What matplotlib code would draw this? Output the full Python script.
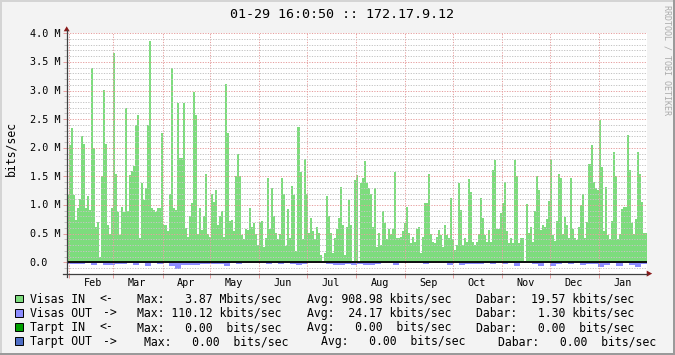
import numpy as np
import matplotlib
matplotlib.use("Agg")
import matplotlib.pyplot as plt
import matplotlib.dates as mdates
import matplotlib.transforms as mtransforms
from matplotlib.patches import Polygon, Rectangle
from matplotlib.lines import Line2D
from datetime import datetime, timedelta

# --- duomenys (nuskaityta nuo paveikslo) ---
# Visas IN, Mbit/s, ~1.26 d. stulpeliai
visas_in = [
    1.18, 2.05, 2.34, 1.18, 0.74, 0.95, 1.1, 2.2, 2.06, 0.95, 1.15, 0.91, 3.4, 2.0, 0.62, 0.7,
    0.1, 1.51, 3.01, 2.06, 0.65, 0.49, 0.94, 3.65, 1.55, 0.88, 0.48, 0.96, 0.88, 2.69, 0.9, 1.53,
    1.6, 1.68, 2.4, 2.57, 0.42, 1.38, 1.09, 1.29, 2.4, 3.87, 0.94, 0.91, 0.88, 0.94, 0.94, 2.25, 0.65,
    0.65, 0.54, 1.2, 3.4, 0.94, 0.91, 2.78, 1.82, 1.82, 2.78, 0.6, 0.45, 0.8, 1.03, 2.97, 2.57,
    0.5, 0.95, 0.56, 0.8, 1.54, 0.5, 0.45, 1.19, 1.06, 1.26, 0.65, 0.8, 0.9, 0.45, 3.11, 2.26,
    0.73, 0.74, 0.54, 1.51, 1.89, 1.51, 0.48, 0.41, 0.59, 0.56, 0.94, 0.62, 0.68, 0.5, 0.31, 0.71,
    0.72, 0.27, 0.43, 1.47, 0.59, 1.3, 0.8, 0.52, 0.41, 0.49, 1.47, 1.2, 0.29, 0.93, 0.42, 1.33,
    1.18, 0.2, 2.36, 1.57, 0.4, 1.8, 1.2, 0.52, 0.77, 0.55, 0.41, 0.61, 0.52, 0.13, 0.02, 0.17,
    1.15, 0.8, 0.52, 0.16, 0.43, 0.58, 0.77, 1.32, 0.66, 0.13, 0.61, 1.09, 0.66, 0.02, 1.44, 1.53,
    0.01, 1.39, 1.47, 1.77, 1.38, 1.29, 1.2, 0.61, 1.29, 0.26, 0.52, 0.3, 0.9, 0.68, 0.41, 0.59,
    0.5, 0.59, 1.58, 0.43, 0.43, 0.45, 0.54, 0.68, 0.97, 0.52, 0.33, 0.45, 0.36, 0.59, 0.62, 0.17,
    0.45, 1.03, 1.03, 1.55, 0.5, 0.36, 0.33, 0.45, 0.56, 0.48, 0.27, 0.65, 0.48, 0.42, 1.12, 0.41,
    0.22, 0.3, 1.39, 0.91, 0.3, 0.42, 0.36, 1.45, 1.23, 0.36, 0.3, 0.36, 0.5, 1.13, 0.77, 0.48,
    0.36, 0.56, 0.36, 1.61, 1.79, 0.59, 0.59, 0.86, 1.03, 1.4, 0.54, 0.33, 0.42, 0.33, 1.79, 1.5,
    0.33, 0.42, 0.42, 0.02, 1.02, 0.52, 0.61, 0.36, 0.9, 1.5, 1.26, 0.56, 0.66, 0.61, 0.75, 1.07,
    1.8, 0.48, 0.37, 0.72, 1.55, 1.47, 0.5, 0.79, 0.66, 0.43, 1.48, 0.59, 0.43, 0.39, 0.62, 1.0,
    1.19, 0.43, 0.7, 1.71, 2.05, 1.4, 1.29, 1.26, 2.49, 1.67, 0.54, 1.32, 0.48, 0.41, 0.72, 1.92,
    1.51, 0.41, 0.49, 0.93, 0.96, 0.96, 2.22, 1.62, 0.69, 0.5, 0.75, 1.92, 1.55, 1.05, 0.52, 0.52,
]
# Visas OUT, kbit/s (piesiama zemyn)
visas_out = [
    35, 25, 25, 10, 55, 15, 45, 55, 30, 25, 10, 45, 15, 65, 15, 35,
    15, 70, 110, 50, 45, 50, 35, 25, 25, 25, 60, 20, 35, 10, 10, 15,
    10, 30, 10, 25, 15, 25, 45, 35, 10, 10, 20, 30, 40, 40, 30, 45,
    25, 50, 45, 25, 10, 10, 45, 20, 10, 10, 10, 35, 10, 10, 15, 45,
    10, 45, 25, 30, 30, 15, 35, 15, 35, 10, 60, 15, 10, 35, 60, 15,
    60, 35, 10, 25, 10, 45, 25, 25, 90, 45, 15, 70, 20, 40, 80, 35,
]

month_labels = ["Feb", "Mar", "Apr", "May", "Jun", "Jul", "Aug", "Sep", "Oct", "Nov", "Dec", "Jan"]
ytick_vals = [4.0, 3.5, 3.0, 2.5, 2.0, 1.5, 1.0, 0.5, 0.0]
ytick_labels = ["4.0 M", "3.5 M", "3.0 M", "2.5 M", "2.0 M", "1.5 M", "1.0 M", "0.5 M", "0.0"]

title = "01-29 16:0:50 :: 172.17.9.12"
legend_names = ["Visas IN", "Visas OUT", "Tarpt IN", "Tarpt OUT"]
legend_arrows = ["<-", "->", "<-", "->"]
legend_colors = ["#7ddc7d", "#8c8cff", "#00a000", "#4f6ec5"]
max_vals = [3.87, 110.12, 0.00, 0.00]
max_units = ["M", "k", " ", " "]
avg_vals = [908.98, 24.17, 0.00, 0.00]
avg_units = ["k", "k", " ", " "]
cur_vals = [19.57, 1.30, 0.00, 0.00]
cur_units = ["k", "k", " ", " "]

# --- isdestymas pikseliais ---
W, H = 675, 355
MONO = "DejaVu Sans Mono"


def fx(px):
    return px / W


def fy(py):
    return 1 - py / H


fig = plt.figure(figsize=(W / 100, H / 100), dpi=100, facecolor="#f3f3f3")

# remelis
fig.add_artist(Rectangle((0, fy(2)), 1, 2 / H, transform=fig.transFigure, color="#d4d4d4", lw=0))
fig.add_artist(Rectangle((0, 0), fx(2), 1, transform=fig.transFigure, color="#d4d4d4", lw=0))
fig.add_artist(Rectangle((fx(673), 0), fx(2), 1, transform=fig.transFigure, color="#9a9a9a", lw=0))
fig.add_artist(Rectangle((0, 0), 1, 2 / H, transform=fig.transFigure, color="#9a9a9a", lw=0))

x0, x1 = 66.7, 646.7
ytop, ybot = 33.3, 273.75
ax = fig.add_axes([fx(x0), fy(ybot), fx(x1) - fx(x0), (ybot - ytop) / H])
ax.set_facecolor("white")

start = datetime(2010, 1, 30, 13, 0)
span_days = 365.7
t0 = mdates.date2num(start)
ax.set_xlim(t0, t0 + span_days)
ax.set_ylim(-0.2, 4.0)

edges_in = t0 + np.linspace(0, span_days, len(visas_in) + 1)
edges_out = t0 + np.linspace(0, span_days, len(visas_out) + 1)
ax.stairs(visas_in, edges_in, baseline=0, fill=True, color=legend_colors[0], lw=0, zorder=1)
ax.stairs(-np.array(visas_out) / 1000.0, edges_out, baseline=0, fill=True,
          color=legend_colors[1], lw=0, zorder=1)

# tinklelis
month_starts = [datetime(2010, m, 1) for m in range(2, 13)] + [datetime(2011, 1, 1)]
ax.set_xticks(mdates.date2num(month_starts))
ax.set_yticks(np.arange(0, 4.01, 0.5))
ax.set_yticks(np.arange(-0.2, 4.01, 0.1), minor=True)
ax.set_axisbelow(False)
dots = (0, (1.2, 1.4))
ax.yaxis.grid(True, which="minor", color="#c4c4c4", linestyle=dots, lw=0.72)
ax.yaxis.grid(True, which="major", color="#e6a0a0", linestyle=dots, lw=0.72)
ax.xaxis.grid(True, which="major", color="#e6a0a0", linestyle=dots, lw=0.72)
ax.tick_params(axis="x", which="major", length=3, width=0.72, color="#e6a0a0",
               labelbottom=False)
ax.tick_params(axis="y", which="major", length=3, width=0.72, color="#e6a0a0",
               labelleft=False)
ax.tick_params(axis="y", which="minor", length=2, width=0.72, color="#c4c4c4")
for s in ax.spines.values():
    s.set_visible(False)

ax.axhline(0, color="black", lw=1.3, zorder=3)

# asys ir rodykles
axis_col = "#404040"
fig.add_artist(Line2D([fx(62.5), fx(x1)], [fy(273.6)] * 2, transform=fig.transFigure,
                      color=axis_col, lw=0.9))
fig.add_artist(Line2D([fx(x0)] * 2, [fy(277), fy(30)], transform=fig.transFigure,
                      color=axis_col, lw=0.9))
arrow_col = "#8b1a1a"
fig.add_artist(Polygon([(fx(63.7), fy(31.3)), (fx(69.7), fy(31.3)), (fx(66.7), fy(26.3))],
                       closed=True, transform=fig.transFigure, color=arrow_col, lw=0))
fig.add_artist(Polygon([(fx(646.7), fy(270.6)), (fx(646.7), fy(276.6)), (fx(652.2), fy(273.6))],
                       closed=True, transform=fig.transFigure, color=arrow_col, lw=0))

# asiu uzrasai
ty = mtransforms.blended_transform_factory(fig.transFigure, ax.transData) + \
    mtransforms.ScaledTranslation(0, -3.4 / 100, fig.dpi_scale_trans)
for v, lab in zip(ytick_vals, ytick_labels):
    ax.text(fx(29.8), v, lab, transform=ty, ha="left", va="baseline",
            family=MONO, size=7.25, color="black")

tx = mtransforms.blended_transform_factory(ax.transData, fig.transFigure)
for ms, lab in zip(month_starts, month_labels):
    ax.text(mdates.date2num(ms + timedelta(days=15)), fy(285.7), lab, transform=tx,
            ha="center", va="baseline", family=MONO, size=7.25, color="black")

fig.text(fx(14.8), fy(149), "bits/sec", rotation=90, rotation_mode="anchor",
         ha="center", va="baseline", family=MONO, size=8.3)
fig.text(fx(341.7), fy(18.3), title, ha="center", va="baseline", family=MONO, size=9.6)
fig.text(fx(666.7), fy(60), "RRDTOOL / TOBI OETIKER", rotation=270, ha="center",
         va="center", family=MONO, size=6, color="#ababab")

# legenda
arrow_x = [100.3, 103.3, 100.3, 103.3]
max_x = [137.7, 137.7, 137.7, 145.0]
avg_x = [307.8, 307.8, 307.8, 322.0]
cur_x = [477.0, 477.0, 477.0, 498.5]
for i in range(4):
    base = 302.8 + 14.2 * i
    fig.add_artist(Rectangle((fx(15), fy(base - 0.5)), fx(7.5), 7.5 / H,
                             transform=fig.transFigure, facecolor=legend_colors[i],
                             edgecolor="black", lw=0.7))
    kw = dict(ha="left", va="baseline", family=MONO, size=8.3)
    fig.text(fx(30.0), fy(base), legend_names[i], **kw)
    fig.text(fx(arrow_x[i] - 0.6), fy(base), legend_arrows[i], **kw)
    fig.text(fx(max_x[i] - 0.6), fy(base),
             f"Max: {max_vals[i]:6.2f} {max_units[i]}bits/sec", **kw)
    fig.text(fx(avg_x[i] - 0.6), fy(base),
             f"Avg: {avg_vals[i]:6.2f} {avg_units[i]}bits/sec", **kw)
    fig.text(fx(cur_x[i] - 0.6), fy(base),
             f"Dabar: {cur_vals[i]:6.2f} {cur_units[i]}bits/sec", **kw)

fig.savefig("out.png", dpi=100, facecolor=fig.get_facecolor())
